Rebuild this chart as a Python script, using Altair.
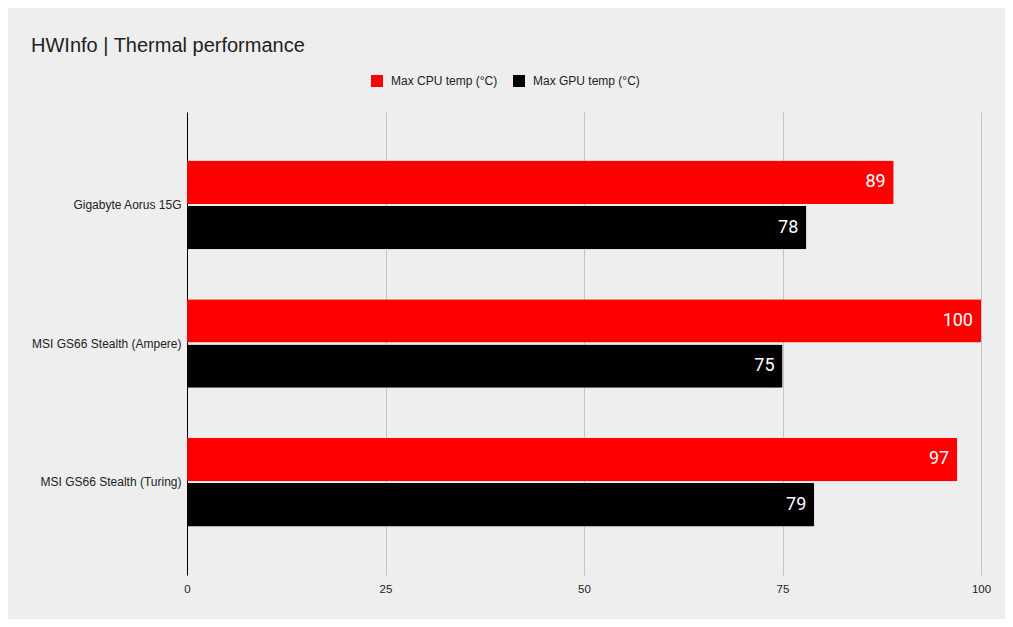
import altair as alt
import pandas as pd

title_text = "HWInfo | Thermal performance"
laptops = ["Gigabyte Aorus 15G", "MSI GS66 Stealth (Ampere)", "MSI GS66 Stealth (Turing)"]
series = ["Max CPU temp (°C)", "Max GPU temp (°C)"]
cpu_temp = [89, 100, 97]
gpu_temp = [78, 75, 79]

rows = []
for i, name in enumerate(laptops):
    rows.append({"laptop": name, "series": series[0], "temp": cpu_temp[i]})
    rows.append({"laptop": name, "series": series[1], "temp": gpu_temp[i]})
df = pd.DataFrame(rows)

FONT = "Liberation Sans"

y_enc = alt.Y("laptop:N", sort=laptops, title=None,
              scale=alt.Scale(paddingInner=0.36, paddingOuter=0.35),
              axis=alt.Axis(labelFontSize=12, labelColor="#222222", labelFont=FONT,
                            ticks=False, domainColor="#000000", labelPadding=6, grid=False))
x_enc = alt.X("temp:Q", title=None, scale=alt.Scale(domain=[0, 100], nice=False),
              axis=alt.Axis(values=[0, 25, 50, 75, 100], labelFontSize=11.5, labelColor="#222222",
                            labelFont=FONT, ticks=False, domain=False, gridColor="#c4c4c4",
                            labelPadding=8, labelFlush=False))
off_enc = alt.YOffset("series:N", sort=series, scale=alt.Scale(paddingInner=0.04))

bars = alt.Chart(df).mark_bar(cornerRadiusEnd=1).encode(
    y=y_enc,
    x=x_enc,
    yOffset=off_enc,
    color=alt.Color("series:N", sort=series,
                    scale=alt.Scale(domain=series, range=["#ff0000", "#000000"]),
                    legend=alt.Legend(title=None, orient="none", direction="horizontal",
                                      legendX=184, legendY=-37, symbolType="square",
                                      symbolSize=144, symbolStrokeWidth=0, labelOffset=8,
                                      labelFontSize=12, labelColor="#222222", labelFont=FONT,
                                      columnPadding=15)),
)

labels = alt.Chart(df).mark_text(align="right", baseline="middle", dx=-8, fontSize=18,
                                 color="white", font="Roboto").encode(
    y=alt.Y("laptop:N", sort=laptops),
    x="temp:Q",
    yOffset=off_enc,
    text="temp:Q",
)

title = alt.Chart(pd.DataFrame({"t": [title_text]})).mark_text(
    align="left", baseline="alphabetic", fontSize=20, font=FONT, color="#222222"
).encode(x=alt.value(-156), y=alt.value(-60), text="t:N")

chart = (bars + labels + title).properties(
    width=794,
    height=463,
    autosize=alt.AutoSizeParams(type="none"),
    padding={"left": 179, "top": 104, "right": 24, "bottom": 44},
    background="#eeeeee",
).configure_view(stroke=None)

chart.save("out.html", embed_options={"renderer": "svg", "actions": False})
